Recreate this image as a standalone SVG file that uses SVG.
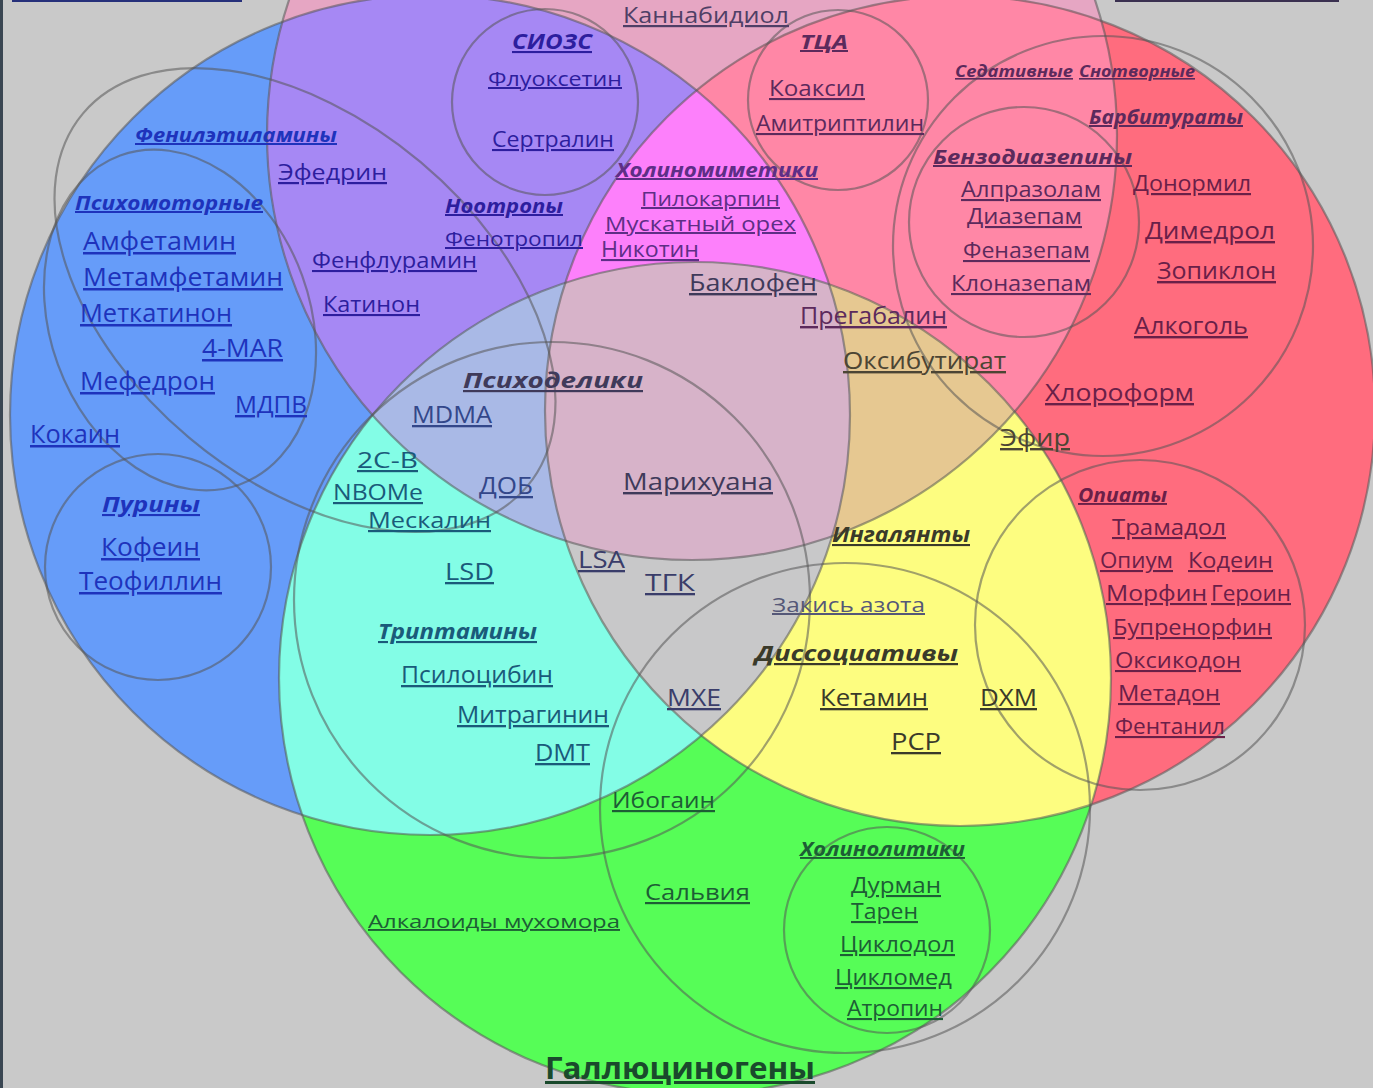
<svg xmlns="http://www.w3.org/2000/svg" width="1373" height="1088" viewBox="0 0 1373 1088">
<style>
.o{fill:none;stroke:#555;stroke-opacity:.55;stroke-width:2.2}
.t{font-family:"Open Sans","DejaVu Sans",sans-serif;text-decoration:underline}
.h{font-weight:700;font-style:italic}
.cb{fill:#1e33bc}.cp{fill:#2d1e9e}.ck{fill:#4f3f66}.ckr{fill:#5c2a5c}.cm{fill:#5e2e86}.cr{fill:#6a2048}
.cmv{fill:#3f3a5a}.cl{fill:#33478a}.cc{fill:#1a5a7a}.cg{fill:#3a3d6a}.ct{fill:#4c4534}.cy{fill:#3a3a2a}.cgr{fill:#1d5e35}
</style>
<defs>
<clipPath id="cB"><circle cx="430" cy="415" r="420"/></clipPath>
<clipPath id="cK"><circle cx="692" cy="135" r="425"/></clipPath>
<clipPath id="cR"><circle cx="960" cy="411" r="415"/></clipPath>
</defs>
<rect width="1373" height="1088" fill="#c9c9c9"/>
<rect x="0" y="0" width="3" height="1088" fill="#3a4652"/>
<rect x="12" y="-1" width="230" height="3" fill="#26307a"/>
<rect x="1115" y="-1" width="224" height="3" fill="#3a3050"/>
<g id="fills">
<circle cx="430" cy="415" r="420" fill="#669cf9"/>
<circle cx="692" cy="135" r="425" fill="#e6a6c3"/>
<circle cx="960" cy="411" r="415" fill="#ff6c7e"/>
<circle cx="695" cy="678" r="416" fill="#56fd57"/>
<g clip-path="url(#cB)"><circle cx="692" cy="135" r="425" fill="#a688f4"/></g>
<g clip-path="url(#cK)"><circle cx="960" cy="411" r="415" fill="#ff87a6"/></g>
<g clip-path="url(#cB)"><circle cx="695" cy="678" r="416" fill="#83fde6"/></g>
<g clip-path="url(#cR)"><circle cx="695" cy="678" r="416" fill="#fdfd80"/></g>
<g clip-path="url(#cB)"><g clip-path="url(#cK)"><circle cx="960" cy="411" r="415" fill="#fd80fb"/></g></g>
<g clip-path="url(#cK)"><g clip-path="url(#cR)"><circle cx="695" cy="678" r="416" fill="#e6c891"/></g></g>
<g clip-path="url(#cB)"><g clip-path="url(#cK)"><circle cx="695" cy="678" r="416" fill="#a9b9e6"/></g></g>
<g clip-path="url(#cB)"><g clip-path="url(#cR)"><circle cx="695" cy="678" r="416" fill="#c8c8c9"/></g></g>
<g clip-path="url(#cB)"><g clip-path="url(#cK)"><g clip-path="url(#cR)"><circle cx="695" cy="678" r="416" fill="#d7b3c9"/></g></g></g>
</g>
<g id="outlines">
<circle class="o" cx="430" cy="415" r="420"/>
<circle class="o" cx="692" cy="135" r="425"/>
<circle class="o" cx="960" cy="411" r="415"/>
<circle class="o" cx="695" cy="678" r="416"/>
<ellipse class="o" cx="305" cy="300" rx="290" ry="180" transform="rotate(40 305 300)"/>
<ellipse class="o" cx="180" cy="320" rx="130" ry="175" transform="rotate(-20 180 320)"/>
<circle class="o" cx="158" cy="567" r="113"/>
<circle class="o" cx="545" cy="102" r="93"/>
<circle class="o" cx="838" cy="100" r="90"/>
<circle class="o" cx="1103" cy="246" r="210"/>
<circle class="o" cx="1024" cy="222" r="115"/>
<circle class="o" cx="1140" cy="625" r="165"/>
<circle class="o" cx="552" cy="600" r="258"/>
<circle class="o" cx="845" cy="808" r="245"/>
<circle class="o" cx="887" cy="930" r="103"/>
</g>
<g id="stimulants">
<text class="t h cb" x="135" y="142" font-size="20" textLength="202" lengthAdjust="spacingAndGlyphs">Фенилэтиламины</text>
<text class="t h cb" x="75" y="210" font-size="20" textLength="188" lengthAdjust="spacingAndGlyphs">Психомоторные</text>
<text class="t cb" x="83" y="250" font-size="25" textLength="153" lengthAdjust="spacingAndGlyphs">Амфетамин</text>
<text class="t cb" x="83" y="286" font-size="25" textLength="200" lengthAdjust="spacingAndGlyphs">Метамфетамин</text>
<text class="t cb" x="80" y="322" font-size="25" textLength="152" lengthAdjust="spacingAndGlyphs">Меткатинон</text>
<text class="t cb" x="202" y="357" font-size="25" textLength="81" lengthAdjust="spacingAndGlyphs">4-MAR</text>
<text class="t cb" x="80" y="390" font-size="25" textLength="135" lengthAdjust="spacingAndGlyphs">Мефедрон</text>
<text class="t cb" x="235" y="413" font-size="24" textLength="72" lengthAdjust="spacingAndGlyphs">МДПВ</text>
<text class="t cb" x="30" y="443" font-size="25" textLength="90" lengthAdjust="spacingAndGlyphs">Кокаин</text>
</g>
<g id="purines">
<text class="t h cb" x="102" y="512" font-size="21" textLength="98" lengthAdjust="spacingAndGlyphs">Пурины</text>
<text class="t cb" x="101" y="556" font-size="25" textLength="99" lengthAdjust="spacingAndGlyphs">Кофеин</text>
<text class="t cb" x="79" y="590" font-size="25" textLength="143" lengthAdjust="spacingAndGlyphs">Теофиллин</text>
</g>
<g id="antidepressants">
<text class="t cp" x="278" y="180" font-size="22" textLength="109" lengthAdjust="spacingAndGlyphs">Эфедрин</text>
<text class="t cp" x="312" y="268" font-size="21" textLength="165" lengthAdjust="spacingAndGlyphs">Фенфлурамин</text>
<text class="t cp" x="323" y="312" font-size="21" textLength="97" lengthAdjust="spacingAndGlyphs">Катинон</text>
<text class="t h cp" x="445" y="213" font-size="20" textLength="118" lengthAdjust="spacingAndGlyphs">Ноотропы</text>
<text class="t cp" x="445" y="246" font-size="20" textLength="138" lengthAdjust="spacingAndGlyphs">Фенотропил</text>
<text class="t h cp" x="512" y="49" font-size="21" textLength="80" lengthAdjust="spacingAndGlyphs">СИОЗС</text>
<text class="t cp" x="488" y="86" font-size="20" textLength="134" lengthAdjust="spacingAndGlyphs">Флуоксетин</text>
<text class="t cp" x="492" y="147" font-size="21" textLength="122" lengthAdjust="spacingAndGlyphs">Сертралин</text>
<text class="t ck" x="623" y="23" font-size="22" textLength="166" lengthAdjust="spacingAndGlyphs">Каннабидиол</text>
</g>
<g id="tca">
<text class="t h ckr" x="800" y="49" font-size="20" textLength="48" lengthAdjust="spacingAndGlyphs">ТЦА</text>
<text class="t ckr" x="769" y="96" font-size="21" textLength="96" lengthAdjust="spacingAndGlyphs">Коаксил</text>
<text class="t ckr" x="756" y="131" font-size="21" textLength="168" lengthAdjust="spacingAndGlyphs">Амитриптилин</text>
</g>
<g id="cholinomimetics">
<text class="t h cm" x="616" y="177" font-size="20" textLength="202" lengthAdjust="spacingAndGlyphs">Холиномиметики</text>
<text class="t cm" x="641" y="206" font-size="20" textLength="139" lengthAdjust="spacingAndGlyphs">Пилокарпин</text>
<text class="t cm" x="605" y="231" font-size="20" textLength="191" lengthAdjust="spacingAndGlyphs">Мускатный орех</text>
<text class="t cm" x="601" y="257" font-size="21" textLength="98" lengthAdjust="spacingAndGlyphs">Никотин</text>
</g>
<g id="sedatives">
<text class="t h ckr" x="955" y="77" font-size="16" textLength="118" lengthAdjust="spacingAndGlyphs">Седативные</text>
<text class="t h ckr" x="1079" y="77" font-size="16" textLength="116" lengthAdjust="spacingAndGlyphs">Снотворные</text>
<text class="t h ckr" x="1089" y="124" font-size="20" textLength="154" lengthAdjust="spacingAndGlyphs">Барбитураты</text>
<text class="t h ckr" x="933" y="164" font-size="20" textLength="199" lengthAdjust="spacingAndGlyphs">Бензодиазепины</text>
<text class="t ckr" x="961" y="197" font-size="21" textLength="140" lengthAdjust="spacingAndGlyphs">Алпразолам</text>
<text class="t ckr" x="967" y="224" font-size="21" textLength="115" lengthAdjust="spacingAndGlyphs">Диазепам</text>
<text class="t ckr" x="963" y="258" font-size="21" textLength="127" lengthAdjust="spacingAndGlyphs">Феназепам</text>
<text class="t ckr" x="951" y="291" font-size="21" textLength="140" lengthAdjust="spacingAndGlyphs">Клоназепам</text>
<text class="t cr" x="1133" y="191" font-size="22" textLength="118" lengthAdjust="spacingAndGlyphs">Донормил</text>
<text class="t cr" x="1145" y="239" font-size="24" textLength="130" lengthAdjust="spacingAndGlyphs">Димедрол</text>
<text class="t cr" x="1157" y="279" font-size="24" textLength="119" lengthAdjust="spacingAndGlyphs">Зопиклон</text>
<text class="t cr" x="1134" y="334" font-size="24" textLength="114" lengthAdjust="spacingAndGlyphs">Алкоголь</text>
<text class="t cr" x="1045" y="401" font-size="24" textLength="149" lengthAdjust="spacingAndGlyphs">Хлороформ</text>
</g>
<g id="depressants-mid">
<text class="t cmv" x="689" y="291" font-size="24" textLength="128" lengthAdjust="spacingAndGlyphs">Баклофен</text>
<text class="t ckr" x="800" y="324" font-size="24" textLength="147" lengthAdjust="spacingAndGlyphs">Прегабалин</text>
<text class="t ct" x="843" y="369" font-size="24" textLength="163" lengthAdjust="spacingAndGlyphs">Оксибутират</text>
<text class="t ct" x="1000" y="446" font-size="24" textLength="70" lengthAdjust="spacingAndGlyphs">Эфир</text>
</g>
<g id="psychedelics">
<text class="t h cmv" x="463" y="388" font-size="22" textLength="180" lengthAdjust="spacingAndGlyphs">Психоделики</text>
<text class="t cl" x="412" y="423" font-size="23" textLength="80" lengthAdjust="spacingAndGlyphs">MDMA</text>
<text class="t cc" x="357" y="468" font-size="22" textLength="61" lengthAdjust="spacingAndGlyphs">2C-B</text>
<text class="t cc" x="333" y="500" font-size="22" textLength="90" lengthAdjust="spacingAndGlyphs">NBOMe</text>
<text class="t cl" x="479" y="494" font-size="23" textLength="54" lengthAdjust="spacingAndGlyphs">ДОБ</text>
<text class="t cc" x="368" y="528" font-size="22" textLength="123" lengthAdjust="spacingAndGlyphs">Мескалин</text>
<text class="t cmv" x="623" y="490" font-size="24" textLength="150" lengthAdjust="spacingAndGlyphs">Марихуана</text>
<text class="t cg" x="578" y="568" font-size="23" textLength="47" lengthAdjust="spacingAndGlyphs">LSA</text>
<text class="t cg" x="645" y="591" font-size="23" textLength="50" lengthAdjust="spacingAndGlyphs">ТГК</text>
<text class="t cc" x="445" y="580" font-size="23" textLength="49" lengthAdjust="spacingAndGlyphs">LSD</text>
<text class="t h cc" x="378" y="639" font-size="21" textLength="159" lengthAdjust="spacingAndGlyphs">Триптамины</text>
<text class="t cc" x="401" y="683" font-size="23" textLength="152" lengthAdjust="spacingAndGlyphs">Псилоцибин</text>
<text class="t cc" x="457" y="723" font-size="23" textLength="152" lengthAdjust="spacingAndGlyphs">Митрагинин</text>
<text class="t cc" x="535" y="761" font-size="23" textLength="55" lengthAdjust="spacingAndGlyphs">DMT</text>
</g>
<g id="dissociatives">
<text class="t h cy" x="832" y="542" font-size="21" textLength="138" lengthAdjust="spacingAndGlyphs">Ингалянты</text>
<text class="t cy" x="772" y="612" font-size="20" textLength="153" lengthAdjust="spacingAndGlyphs" style="fill:#555878">Закись азота</text>
<text class="t h cy" x="755" y="661" font-size="22" textLength="203" lengthAdjust="spacingAndGlyphs">Диссоциативы</text>
<text class="t cg" x="667" y="706" font-size="23" textLength="54" lengthAdjust="spacingAndGlyphs">MXE</text>
<text class="t cy" x="820" y="706" font-size="23" textLength="108" lengthAdjust="spacingAndGlyphs">Кетамин</text>
<text class="t cy" x="980" y="706" font-size="23" textLength="57" lengthAdjust="spacingAndGlyphs">DXM</text>
<text class="t cy" x="891" y="750" font-size="23" textLength="50" lengthAdjust="spacingAndGlyphs">PCP</text>
</g>
<g id="opiates">
<text class="t h cr" x="1078" y="502" font-size="19" textLength="89" lengthAdjust="spacingAndGlyphs">Опиаты</text>
<text class="t cr" x="1112" y="535" font-size="21" textLength="114" lengthAdjust="spacingAndGlyphs">Трамадол</text>
<text class="t cr" x="1100" y="568" font-size="21" textLength="73" lengthAdjust="spacingAndGlyphs">Опиум</text>
<text class="t cr" x="1188" y="568" font-size="21" textLength="85" lengthAdjust="spacingAndGlyphs">Кодеин</text>
<text class="t cr" x="1106" y="601" font-size="21" textLength="101" lengthAdjust="spacingAndGlyphs">Морфин</text>
<text class="t cr" x="1211" y="601" font-size="21" textLength="80" lengthAdjust="spacingAndGlyphs">Героин</text>
<text class="t cr" x="1113" y="635" font-size="21" textLength="159" lengthAdjust="spacingAndGlyphs">Бупренорфин</text>
<text class="t cr" x="1115" y="668" font-size="21" textLength="126" lengthAdjust="spacingAndGlyphs">Оксикодон</text>
<text class="t cr" x="1118" y="701" font-size="21" textLength="102" lengthAdjust="spacingAndGlyphs">Метадон</text>
<text class="t cr" x="1115" y="734" font-size="21" textLength="110" lengthAdjust="spacingAndGlyphs">Фентанил</text>
</g>
<g id="hallucinogens">
<text class="t cgr" x="612" y="808" font-size="22" textLength="103" lengthAdjust="spacingAndGlyphs">Ибогаин</text>
<text class="t cgr" x="645" y="900" font-size="22" textLength="105" lengthAdjust="spacingAndGlyphs">Сальвия</text>
<text class="t cgr" x="368" y="928" font-size="19" textLength="252" lengthAdjust="spacingAndGlyphs">Алкалоиды мухомора</text>
<text class="t cgr" x="545" y="1079" font-size="30" font-weight="700" textLength="270" lengthAdjust="spacingAndGlyphs" style="fill:#1a4a2c">Галлюциногены</text>
</g>
<g id="anticholinergics">
<text class="t h cgr" x="800" y="856" font-size="19" textLength="165" lengthAdjust="spacingAndGlyphs">Холинолитики</text>
<text class="t cgr" x="851" y="893" font-size="21" textLength="90" lengthAdjust="spacingAndGlyphs">Дурман</text>
<text class="t cgr" x="851" y="919" font-size="21" textLength="67" lengthAdjust="spacingAndGlyphs">Тарен</text>
<text class="t cgr" x="840" y="952" font-size="21" textLength="115" lengthAdjust="spacingAndGlyphs">Циклодол</text>
<text class="t cgr" x="835" y="985" font-size="21" textLength="117" lengthAdjust="spacingAndGlyphs">Цикломед</text>
<text class="t cgr" x="847" y="1016" font-size="21" textLength="96" lengthAdjust="spacingAndGlyphs">Атропин</text>
</g>
</svg>
